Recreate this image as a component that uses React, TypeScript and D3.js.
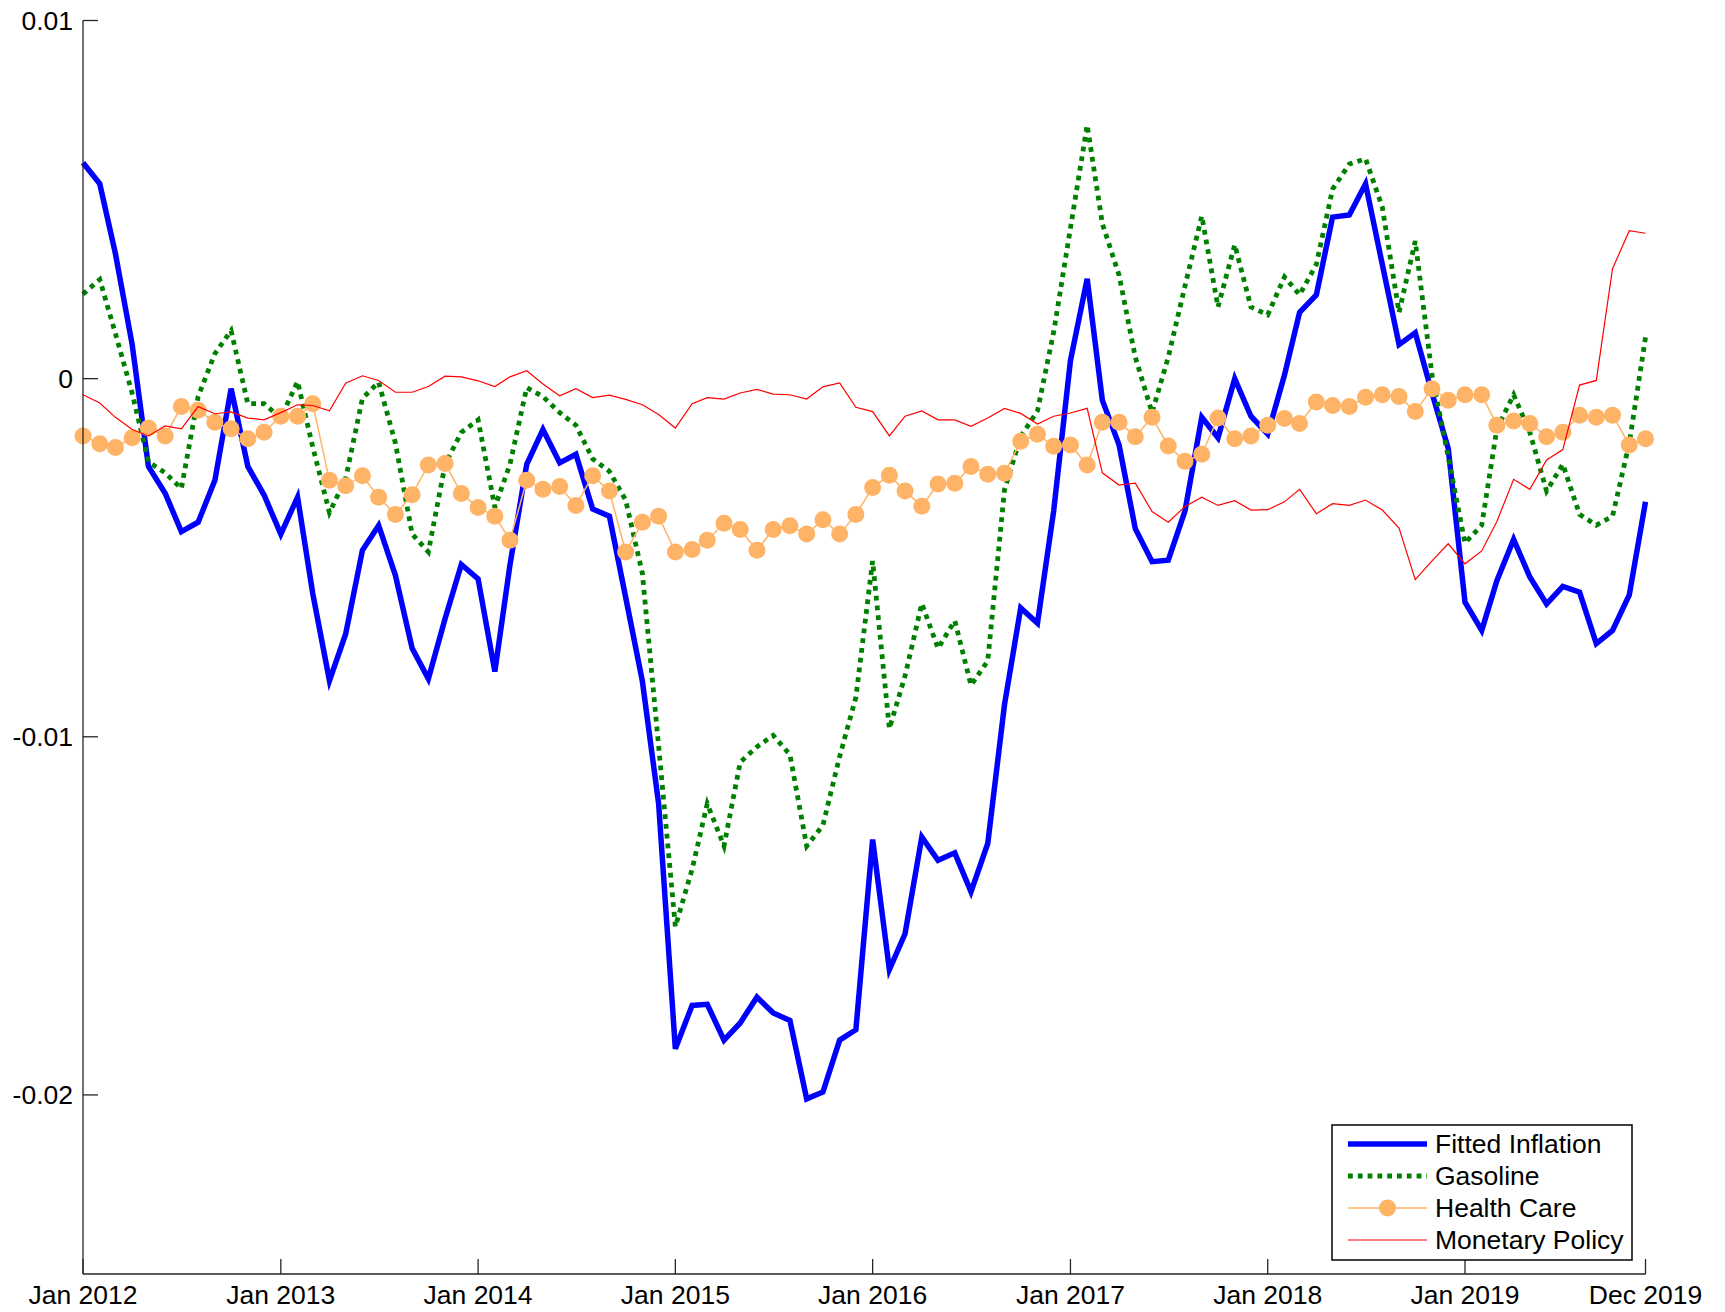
import React from 'react';
import * as d3 from 'd3';

// monthly observations, Jan 2012 .. Dec 2019 (values in units of 1e-3)
const months = d3.timeMonth.range(new Date(2012, 0, 1), new Date(2020, 0, 1));

const fittedInflation = [
  6.03, 5.44, 3.49, 0.95, -2.45, -3.2, -4.27, -4.01, -2.84, -0.28, -2.45, -3.25,
  -4.34, -3.31, -5.99, -8.43, -7.13, -4.79, -4.1, -5.49, -7.53, -8.38, -6.7, -5.19,
  -5.59, -8.18, -5.2, -2.39, -1.42, -2.35, -2.11, -3.64, -3.84, -6.1, -8.45, -11.86,
  -18.71, -17.5, -17.47, -18.47, -17.99, -17.27, -17.71, -17.92, -20.11, -19.92, -18.47, -18.18,
  -12.87, -16.5, -15.5, -12.8, -13.45, -13.24, -14.33, -12.98, -9.1, -6.4, -6.83, -3.69,
  0.5, 2.79, -0.6, -1.85, -4.19, -5.11, -5.07, -3.69, -1.08, -1.65, 0.0, -1.05,
  -1.55, 0.1, 1.85, 2.34, 4.51, 4.57, 5.44, 3.19, 0.95, 1.28, -0.4, -1.95,
  -6.24, -7.03, -5.64, -4.49, -5.54, -6.29, -5.8, -5.96, -7.4, -7.03, -6.04, -3.44,
];

const gasoline = [
  2.36, 2.77, 1.26, -0.41, -2.32, -2.63, -3.07, -0.5, 0.7, 1.34, -0.7, -0.7,
  -1.1, -0.08, -1.9, -3.74, -2.79, -0.55, -0.1, -1.8, -4.34, -4.84, -2.39, -1.5,
  -1.15, -3.59, -2.39, -0.25, -0.5, -0.95, -1.3, -2.24, -2.59, -3.39, -5.44, -10.25,
  -15.3, -13.7, -11.87, -13.05, -10.71, -10.28, -9.96, -10.5, -13.05, -12.47, -10.55, -8.9,
  -5.09, -9.77, -8.3, -6.28, -7.53, -6.76, -8.56, -7.88, -3.1, -1.62, -0.9, 1.3,
  4.2, 7.08, 4.33, 2.89, 0.6, -0.95, 0.6, 2.59, 4.54, 2.0, 3.74, 2.0,
  1.78, 2.84, 2.34, 3.19, 5.29, 5.99, 6.14, 4.79, 1.85, 3.84, 0.1, -2.19,
  -4.59, -4.09, -1.4, -0.45, -1.5, -3.14, -2.39, -3.79, -4.09, -3.84, -1.8, 1.15,
];

const healthCare = [
  -1.6, -1.82, -1.92, -1.65, -1.38, -1.6, -0.78, -0.88, -1.22, -1.4, -1.68, -1.5,
  -1.05, -1.05, -0.7, -2.84, -2.99, -2.71, -3.31, -3.79, -3.24, -2.41, -2.37, -3.21,
  -3.6, -3.84, -4.51, -2.84, -3.09, -3.01, -3.54, -2.71, -3.14, -4.84, -4.01, -3.84,
  -4.84, -4.77, -4.51, -4.04, -4.21, -4.79, -4.21, -4.11, -4.34, -3.94, -4.34, -3.79,
  -3.04, -2.7, -3.14, -3.56, -2.94, -2.92, -2.45, -2.67, -2.64, -1.75, -1.55, -1.89,
  -1.85, -2.41, -1.22, -1.22, -1.62, -1.08, -1.88, -2.31, -2.11, -1.1, -1.68, -1.6,
  -1.3, -1.11, -1.25, -0.65, -0.75, -0.78, -0.52, -0.45, -0.5, -0.92, -0.28, -0.6,
  -0.45, -0.45, -1.3, -1.18, -1.25, -1.62, -1.5, -1.02, -1.08, -1.02, -1.85, -1.68,
];

const monetaryPolicy = [
  -0.45, -0.68, -1.08, -1.42, -1.6, -1.32, -1.4, -0.78, -0.98, -0.93, -1.1, -1.15,
  -0.95, -0.73, -0.75, -0.9, -0.13, 0.08, -0.05, -0.38, -0.38, -0.22, 0.07, 0.05,
  -0.06, -0.22, 0.05, 0.22, -0.15, -0.48, -0.28, -0.53, -0.46, -0.58, -0.73, -1.0,
  -1.38, -0.7, -0.53, -0.57, -0.4, -0.3, -0.43, -0.45, -0.57, -0.23, -0.12, -0.8,
  -0.92, -1.6, -1.05, -0.9, -1.15, -1.15, -1.33, -1.1, -0.83, -0.97, -1.27, -1.05,
  -0.96, -0.83, -2.63, -2.97, -2.92, -3.71, -4.01, -3.57, -3.31, -3.54, -3.41, -3.67,
  -3.66, -3.44, -3.09, -3.77, -3.49, -3.54, -3.39, -3.67, -4.17, -5.61, -5.09, -4.61,
  -5.17, -4.81, -3.99, -2.81, -3.09, -2.27, -1.98, -0.18, -0.05, 3.07, 4.13, 4.06,
];

const xTickDates = [
  new Date(2012, 0, 1), new Date(2013, 0, 1), new Date(2014, 0, 1), new Date(2015, 0, 1),
  new Date(2016, 0, 1), new Date(2017, 0, 1), new Date(2018, 0, 1), new Date(2019, 0, 1),
  new Date(2019, 11, 1),
];
const xTickLabels = ['Jan 2012', 'Jan 2013', 'Jan 2014', 'Jan 2015', 'Jan 2016', 'Jan 2017', 'Jan 2018', 'Jan 2019', 'Dec 2019'];
const yTickValues = [10, 0, -10, -20];
const yTickLabels = ['0.01', '0', '-0.01', '-0.02'];
const legendLabels = ['Fitted Inflation', 'Gasoline', 'Health Care', 'Monetary Policy'];

const W = 1725;
const H = 1312;
const margin = { top: 20.5, right: 79.5, bottom: 38, left: 83 };
const font = "'Liberation Sans', Arial, Helvetica, sans-serif";
const axisColor = '#262626';
const orange = '#FFB366';
const fontSize = 26.5;

const App = () => {
  const x = d3.scaleTime()
    .domain([months[0], months[months.length - 1]])
    .range([margin.left, W - margin.right]);
  const y = d3.scaleLinear()
    .domain([-25, 10])
    .range([H - margin.bottom, margin.top]);

  const line = d3.line<number>()
    .x((d, i) => x(months[i]))
    .y(d => y(d));

  const x0 = margin.left;
  const x1 = W - margin.right;
  const yb = H - margin.bottom;
  const tick = 15;

  // legend layout
  const lg = { x: 1332, y: 1125, w: 300, h: 135 };
  const rowY = [1144, 1176, 1208, 1240];
  const sx0 = 1348, sx1 = 1427;

  return (
    <svg width={W} height={H} style={{ position: 'absolute', left: 0, top: 0, background: '#fff' }}
      fontFamily={font}>
      <rect width={W} height={H} fill="#fff" />

      {/* series */}
      <path d={line(fittedInflation) || ''} fill="none" stroke="#0000FF" strokeWidth={5.5} />
      <path d={line(gasoline) || ''} fill="none" stroke="#008000" strokeWidth={4.8} strokeDasharray="4.8,5" />
      <path d={line(healthCare) || ''} fill="none" stroke={orange} strokeWidth={1.5} />
      {healthCare.map((d, i) => (
        <circle key={i} cx={x(months[i])} cy={y(d)} r={8.5} fill={orange} />
      ))}
      <path d={line(monetaryPolicy) || ''} fill="none" stroke="#FF0000" strokeWidth={1.2} />

      {/* axes */}
      <g stroke={axisColor} strokeWidth={1.3} fill="none">
        <line x1={x0} x2={x0} y1={margin.top} y2={yb} />
        <line x1={x0} x2={x1} y1={yb} y2={yb} />
        {yTickValues.map(v => (
          <line key={v} x1={x0} x2={x0 + tick} y1={y(v)} y2={y(v)} />
        ))}
        {xTickDates.map((d, i) => (
          <line key={i} x1={x(d)} x2={x(d)} y1={yb} y2={yb - tick} />
        ))}
      </g>
      <g fontSize={fontSize} fill="#000">
        {yTickValues.map((v, i) => (
          <text key={v} x={x0 - 10} y={y(v)} dy="0.35em" textAnchor="end">{yTickLabels[i]}</text>
        ))}
        {xTickDates.map((d, i) => (
          <text key={i} x={x(d)} y={yb + 30} textAnchor="middle">{xTickLabels[i]}</text>
        ))}
      </g>

      {/* legend */}
      <g>
        <rect x={lg.x} y={lg.y} width={lg.w} height={lg.h} fill="#fff" stroke="#000" strokeWidth={1.5} />
        <line x1={sx0} x2={sx1} y1={rowY[0]} y2={rowY[0]} stroke="#0000FF" strokeWidth={5.5} />
        <line x1={sx0} x2={sx1} y1={rowY[1]} y2={rowY[1]} stroke="#008000" strokeWidth={4.8} strokeDasharray="4.8,5" />
        <line x1={sx0} x2={sx1} y1={rowY[2]} y2={rowY[2]} stroke={orange} strokeWidth={1.5} />
        <circle cx={(sx0 + sx1) / 2} cy={rowY[2]} r={8.5} fill={orange} />
        <line x1={sx0} x2={sx1} y1={rowY[3]} y2={rowY[3]} stroke="#FF0000" strokeWidth={1.2} />
        {legendLabels.map((t, i) => (
          <text key={t} x={1435} y={rowY[i]} dy="0.35em" fontSize={fontSize} fill="#000">{t}</text>
        ))}
      </g>
    </svg>
  );
};

export default App;
